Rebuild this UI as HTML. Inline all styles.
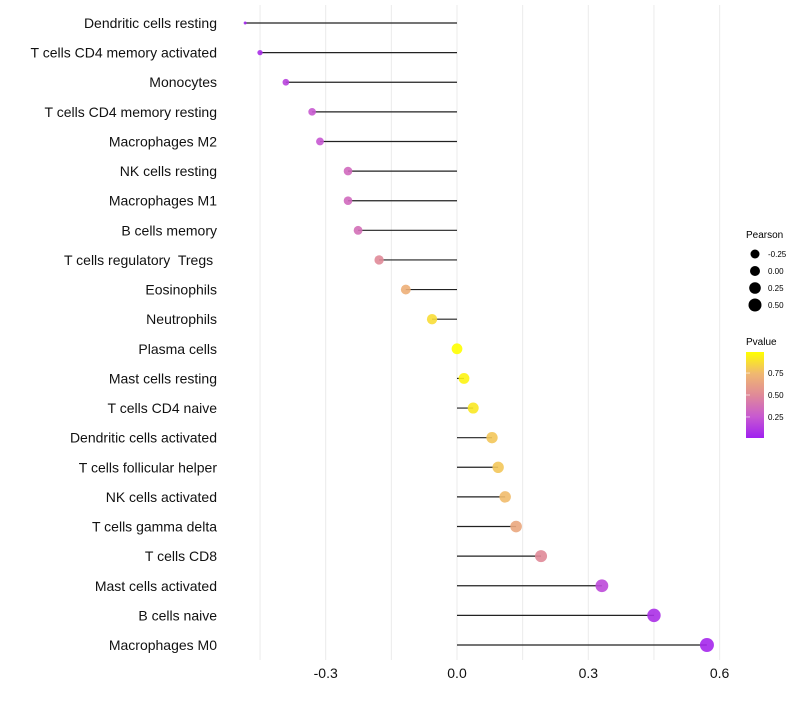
<!DOCTYPE html>
<html><head><meta charset="utf-8">
<style>
body{margin:0;background:#fff;font-family:"Liberation Sans",sans-serif;}
svg text{font-family:"Liberation Sans",sans-serif;white-space:pre;}
</style></head>
<body>
<svg id="chart" width="800" height="700" xmlns="http://www.w3.org/2000/svg">
<g id="grid"></g>
<g id="marks"></g>
<g id="ylabels"></g>
<g id="xlabels"></g>
<g id="legend">
<text x="746" y="238" font-size="10" fill="#000">Pearson</text>
<g id="sizeLegend"></g>
<text x="746" y="345" font-size="10" fill="#000">Pvalue</text>
<defs><linearGradient id="pg" x1="0" y1="1" x2="0" y2="0">
<stop offset="0" stop-color="#a020f0"/><stop offset="0.25" stop-color="#c85ad0"/><stop offset="0.5" stop-color="#e08a98"/><stop offset="0.75" stop-color="#f0b870"/><stop offset="1" stop-color="#ffff00"/></linearGradient></defs>
<rect x="746" y="352" width="18" height="86" fill="url(#pg)"/>
<g id="colorTicks"></g>
</g>
</svg>
<script>
const categories=["Dendritic cells resting","T cells CD4 memory activated","Monocytes","T cells CD4 memory resting","Macrophages M2","NK cells resting","Macrophages M1","B cells memory","T cells regulatory  Tregs ","Eosinophils","Neutrophils","Plasma cells","Mast cells resting","T cells CD4 naive","Dendritic cells activated","T cells follicular helper","NK cells activated","T cells gamma delta","T cells CD8","Mast cells activated","B cells naive","Macrophages M0"];
const pearson=[-0.484,-0.45,-0.391,-0.331,-0.313,-0.249,-0.249,-0.226,-0.178,-0.117,-0.057,0.0,0.016,0.037,0.08,0.094,0.11,0.135,0.192,0.331,0.45,0.571];
const pvalue=[0.02,0.06,0.15,0.25,0.24,0.33,0.33,0.36,0.5,0.7,0.88,1.0,0.96,0.92,0.8,0.8,0.76,0.66,0.5,0.18,0.07,0.03];
const xTicks=[-0.3,0.0,0.3,0.6];
const xMinor=[-0.45,-0.15,0.15,0.45];
const sizeLegendVals=[-0.25,0.0,0.25,0.5];
const colorTicks=[0.25,0.5,0.75];

const NS="http://www.w3.org/2000/svg";
function mk(t,a,p){const e=document.createElementNS(NS,t);for(const k in a)e.setAttribute(k,a[k]);p.appendChild(e);return e;}
const x=v=>457+v*437.7;
const y=i=>23+i*(645-23)/21;
const pmin=-0.484,pmax=0.571;
const rad=v=>1.5+5.5*Math.pow(Math.max(0,(v-pmin)/(pmax-pmin)),0.45);
const stops=[[0,[160,32,240]],[0.25,[200,90,208]],[0.5,[224,138,152]],[0.75,[240,184,112]],[1,[255,255,0]]];
function col(p){for(let k=0;k<stops.length-1;k++){const [a,ca]=stops[k],[b,cb]=stops[k+1];
 if(p<=b){const t=(p-a)/(b-a);return `rgb(${ca.map((c,i)=>Math.round(c+(cb[i]-c)*t)).join(',')})`;}}
 return 'rgb(255,255,0)';}

const grid=document.getElementById('grid');
xTicks.concat(xMinor).forEach(v=>{
 const l=mk('line',{x1:x(v),x2:x(v),y1:5,y2:660,stroke:'#ebebeb','stroke-width':1},grid);
 
 
});
const marks=document.getElementById('marks'),yl=document.getElementById('ylabels');
categories.forEach((c,i)=>{
 const ln=mk('line',{x1:x(0),x2:x(pearson[i]),y1:y(i),y2:y(i),stroke:'#222','stroke-width':1.2},marks);
 
 
 const pt=mk('circle',{cx:x(pearson[i]),cy:y(i),r:rad(pearson[i]),fill:col(pvalue[i]),'fill-opacity':0.9},marks);
 
 
 const t=mk('text',{x:217,y:y(i)+5,'text-anchor':'end','font-size':14,fill:'#111'},yl);
 t.textContent=c;
 
 
});
const xl=document.getElementById('xlabels');
xTicks.forEach(v=>{
 const t=mk('text',{x:x(v),y:678,'text-anchor':'middle','font-size':14,fill:'#111'},xl);
 t.textContent=v.toFixed(1);
 
 
});
const sl=document.getElementById('sizeLegend');
const legR=[4.5,5,5.8,6.5];
sizeLegendVals.forEach((v,i)=>{
 const cy=254+i*17;
 const c=mk('circle',{cx:755,cy:cy,r:legR[i],fill:'#000'},sl);
 
 
 const t=mk('text',{x:768,y:cy+3,'font-size':8,fill:'#000'},sl);
 t.textContent=v.toFixed(2);
 
 
});
const ct=document.getElementById('colorTicks');
colorTicks.forEach(v=>{
 const yy=438-(v-0.01)/0.98*86;
 const l=mk('line',{x1:746,x2:750,y1:yy,y2:yy,stroke:'#fff','stroke-opacity':0.6},ct);
 
 
 const t=mk('text',{x:768,y:yy+3,'font-size':8,fill:'#000'},ct);
 t.textContent=v.toFixed(2);
 
 
});
</script>
</body></html>
